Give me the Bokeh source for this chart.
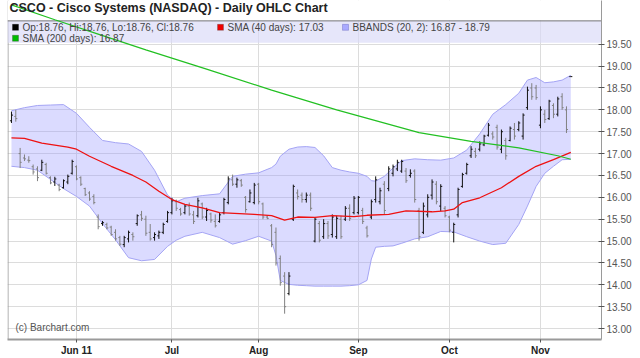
from bokeh.plotting import figure
from bokeh.models import (Range1d, FixedTicker, Span, BoxAnnotation, Label,
                          ColumnDataSource, NumeralTickFormatter)
from bokeh.embed import file_html
from bokeh.resources import INLINE

# ---------------- data ----------------
month_idx = [15, 37, 57, 80, 101, 122]
month_labels = ["Jun 11", "Jul", "Aug", "Sep", "Oct", "Nov"]
price_ticks = [13.0, 13.5, 14.0, 14.5, 15.0, 15.5, 16.0, 16.5, 17.0, 17.5, 18.0, 18.5, 19.0, 19.5]

opens = [17.75, 17.85, 17.00, 16.90, 16.85, 16.70, 16.65, 16.62, 16.75, 16.45,
         16.35, 16.28, 16.22, 16.35, 16.55, 16.70, 16.45, 16.20, 16.10, 16.02,
         15.55, 15.40, 15.38, 15.32, 15.20, 15.08, 14.92, 15.05, 15.15, 15.40,
         15.60, 15.50, 15.20, 15.08, 15.12, 15.20, 15.45, 15.65, 15.90, 15.72,
         15.65, 15.80, 15.60, 15.58, 15.85, 15.55, 15.62, 15.45, 15.45, 15.65,
         15.88, 16.40, 16.30, 16.38, 16.00, 15.90, 15.88, 16.30, 15.85, 15.55,
         15.35, 15.20, 14.60, 14.20, 13.80, 15.50, 16.10, 16.05, 15.95, 16.05,
         15.00, 15.40, 15.10, 15.40, 15.15, 15.10, 15.50, 15.50, 15.75, 15.65,
         15.65, 15.70, 15.30, 15.55, 15.95, 15.90, 16.30, 16.20, 16.55, 16.65,
         16.60, 16.60, 16.50, 16.60, 15.70, 15.20, 15.60, 16.05, 16.30, 15.80,
         15.75, 15.55, 15.20, 15.60, 16.25, 16.55, 16.95, 17.05, 17.10, 17.20,
         17.42, 17.45, 17.60, 17.10, 17.30, 17.30, 17.55, 17.55, 17.40, 18.05,
         18.50, 18.50, 17.65, 17.90, 17.80, 18.10, 17.90, 18.30, 18.00, 18.76]
highs = [17.96, 18.00, 17.13, 16.98, 16.94, 16.75, 16.71, 16.86, 16.79, 16.48,
         16.47, 16.31, 16.41, 16.52, 16.86, 16.73, 16.48, 16.22, 16.14, 16.07,
         15.61, 15.46, 15.42, 15.35, 15.27, 15.12, 15.12, 15.24, 15.20, 15.61,
         15.69, 15.58, 15.39, 15.20, 15.24, 15.42, 15.69, 15.99, 15.95, 15.76,
         15.84, 15.88, 15.69, 15.99, 15.88, 15.76, 15.65, 15.61, 15.65, 15.99,
         16.48, 16.52, 16.45, 16.42, 16.03, 16.18, 16.33, 16.33, 15.88, 15.58,
         15.39, 15.31, 14.67, 14.29, 14.29, 16.29, 16.18, 16.11, 16.11, 16.11,
         15.54, 15.46, 15.50, 15.46, 15.61, 15.58, 15.58, 15.80, 15.84, 16.03,
         16.03, 15.76, 15.35, 15.95, 16.48, 16.22, 16.37, 16.71, 16.75, 16.86,
         16.86, 16.67, 16.64, 16.64, 15.76, 15.88, 16.07, 16.41, 16.37, 16.30,
         15.80, 15.58, 15.42, 16.22, 16.56, 16.79, 17.17, 17.13, 17.28, 17.43,
         17.70, 17.51, 17.66, 17.55, 17.36, 17.62, 17.70, 17.74, 17.92, 18.53,
         18.61, 18.57, 18.08, 18.00, 18.23, 18.15, 18.30, 18.38, 18.08, 18.76]
lows = [17.70, 17.73, 16.67, 16.83, 16.79, 16.52, 16.37, 16.60, 16.52, 16.30,
        16.26, 16.14, 16.20, 16.30, 16.52, 16.39, 16.26, 16.03, 15.92, 15.84,
        15.27, 15.35, 15.27, 15.12, 15.01, 14.89, 14.86, 14.97, 15.01, 15.35,
        15.46, 15.12, 15.01, 15.01, 15.05, 15.16, 15.42, 15.61, 15.69, 15.58,
        15.61, 15.58, 15.39, 15.54, 15.50, 15.46, 15.42, 15.31, 15.42, 15.61,
        15.84, 16.26, 16.22, 16.24, 15.65, 15.88, 15.84, 15.84, 15.50, 15.50,
        14.86, 14.44, 13.98, 13.34, 13.76, 15.46, 15.95, 15.88, 15.88, 15.69,
        14.97, 14.97, 15.05, 15.05, 15.08, 15.05, 15.05, 15.46, 15.46, 15.61,
        15.61, 15.39, 15.08, 15.50, 15.88, 15.84, 15.61, 16.14, 16.48, 16.60,
        16.56, 16.33, 16.45, 15.88, 15.01, 15.16, 15.54, 15.95, 15.84, 15.69,
        15.54, 15.20, 14.97, 15.54, 16.22, 16.52, 16.90, 16.90, 17.05, 17.17,
        17.39, 17.32, 17.09, 17.01, 16.86, 17.28, 17.32, 17.51, 17.32, 18.00,
        18.23, 18.23, 17.58, 17.70, 17.77, 17.81, 17.85, 18.00, 17.47, 18.76]
closes = [17.88, 17.80, 16.80, 16.88, 16.84, 16.58, 16.45, 16.80, 16.55, 16.33,
          16.42, 16.18, 16.38, 16.48, 16.82, 16.42, 16.30, 16.06, 15.96, 15.88,
          15.33, 15.42, 15.30, 15.15, 15.05, 14.93, 15.08, 15.20, 15.10, 15.58,
          15.52, 15.18, 15.05, 15.15, 15.20, 15.38, 15.65, 15.92, 15.75, 15.62,
          15.80, 15.62, 15.45, 15.92, 15.55, 15.70, 15.48, 15.35, 15.60, 15.95,
          16.42, 16.30, 16.40, 16.28, 15.72, 16.10, 16.28, 15.90, 15.55, 15.52,
          14.92, 14.50, 14.05, 13.50, 14.20, 16.25, 16.02, 15.95, 16.05, 15.75,
          15.50, 15.02, 15.40, 15.12, 15.55, 15.52, 15.10, 15.75, 15.52, 15.98,
          16.00, 15.45, 15.12, 15.90, 16.40, 16.15, 15.70, 16.65, 16.70, 16.80,
          16.82, 16.38, 16.55, 15.95, 15.10, 15.80, 16.00, 16.35, 15.90, 16.25,
          15.58, 15.25, 15.38, 16.18, 16.52, 16.75, 17.10, 16.95, 17.22, 17.40,
          17.65, 17.38, 17.15, 17.50, 16.95, 17.58, 17.40, 17.70, 17.88, 18.45,
          18.30, 18.28, 18.00, 17.78, 18.20, 17.90, 18.25, 18.05, 17.55, 18.76]

bb_idx = [0, 3, 6, 9, 12, 15, 18, 21, 24, 27, 30, 33, 36, 38, 40, 44, 48, 51, 54, 57,
          60, 61, 62, 64, 66, 68, 70, 72, 74, 76, 78, 80, 82, 83, 84, 86, 88, 90, 93, 96,
          99, 102, 105, 108, 111, 114, 117, 119, 121, 123, 125, 127, 129]
bb_upper = [17.98, 18.05, 18.10, 18.11, 18.12, 17.92, 17.60, 17.30, 17.25, 17.22,
            17.05, 16.62, 16.05, 15.90, 15.98, 16.04, 16.08, 16.48, 16.53, 16.56,
            16.68, 16.76, 16.94, 17.10, 17.15, 17.16, 17.14, 16.95, 16.68, 16.62,
            16.58, 16.55, 16.48, 16.38, 16.37, 16.48, 16.67, 16.84, 16.88, 16.86,
            16.85, 16.90, 17.08, 17.45, 17.90, 18.12, 18.38, 18.68, 18.74, 18.62,
            18.64, 18.68, 18.79]
bb_lower = [16.71, 16.68, 16.62, 16.41, 16.20, 16.02, 15.80, 15.40, 15.03, 14.62,
            14.55, 14.58, 14.88, 15.02, 15.11, 15.20, 15.08, 14.93, 15.01, 15.11,
            15.00, 14.67, 14.10, 14.01, 13.99, 13.98, 13.97, 13.97, 13.97, 13.97,
            13.98, 14.00, 14.10, 14.59, 14.86, 14.88, 14.89, 14.95, 15.05, 15.10,
            15.22, 15.21, 15.10, 15.00, 14.92, 14.95, 15.38, 15.80, 16.25, 16.55,
            16.71, 16.86, 16.87]

sma40_idx = [0, 3, 7, 13, 15, 18, 23, 28, 31, 34, 37, 40, 44, 48, 56, 60, 63, 66, 70,
             74, 79, 82, 87, 91, 97, 100, 102, 104, 108, 113, 117, 121, 125, 129]
sma40_vals = [17.36, 17.35, 17.24, 17.15, 17.10, 16.94, 16.71, 16.50, 16.35, 16.14,
              15.95, 15.84, 15.76, 15.65, 15.61, 15.58, 15.48, 15.55, 15.54, 15.58,
              15.56, 15.59, 15.61, 15.69, 15.67, 15.69, 15.73, 15.88, 15.99, 16.22,
              16.48, 16.71, 16.86, 17.03]

sma200_idx = [0, 10, 20, 31, 45, 60, 75, 94, 106, 117, 126, 129]
sma200_vals = [20.40, 20.06, 19.73, 19.37, 18.93, 18.45, 18.00, 17.48, 17.28, 17.13,
               16.95, 16.87]

# ---------------- layout helpers (pixel -> data) ----------------
X0, XS = 10.96, 4.336          # px of index 0, px per trading day
def sx(px):
    return (px - X0) / XS
def sy(py):
    return 20.5 - py / 44.0

FONT = "Liberation Sans"

p = figure(width=640, height=358, output_backend="svg", toolbar_location=None,
           x_range=Range1d(sx(7), sx(601)), y_range=Range1d(sy(341), sy(0)),
           y_axis_location="right", min_border_left=7, min_border_right=39,
           min_border_top=0, min_border_bottom=17)
p.outline_line_color = None
p.background_fill_color = "white"
p.border_fill_color = "white"

# axes
xa = p.xaxis[0]
xa.ticker = FixedTicker(ticks=month_idx)
xa.major_label_overrides = {k: v for k, v in zip(month_idx, month_labels)}
xa.axis_line_color = "#9a9a9a"
xa.axis_line_width = 2
xa.major_tick_line_color = "#555555"
xa.major_tick_in = 0
xa.major_tick_out = 3
xa.minor_tick_line_color = None
xa.major_label_standoff = 2
xa.major_label_text_font = FONT
xa.major_label_text_font_size = "10px"
xa.major_label_text_font_style = "bold"
xa.major_label_text_color = "#222222"

ya = p.yaxis[0]
ya.ticker = FixedTicker(ticks=price_ticks)
ya.formatter = NumeralTickFormatter(format="0.00")
ya.axis_line_color = "#9a9a9a"
ya.major_tick_line_color = "#555555"
ya.major_tick_in = 3
ya.major_tick_out = 3
ya.minor_tick_line_color = None
ya.major_label_standoff = 2
ya.major_label_text_font = FONT
ya.major_label_text_font_size = "10px"
ya.major_label_text_color = "#555555"

p.xgrid.grid_line_color = "#dcdcdc"
p.ygrid.grid_line_color = "#dcdcdc"

# frame pieces
p.add_layout(Span(location=sx(7.5), dimension="height", line_color="#9a9a9a",
                  line_width=1, level="underlay"))
p.add_layout(BoxAnnotation(bottom=sy(20), fill_color="white", fill_alpha=1.0,
                           line_color=None, level="underlay"))
p.add_layout(BoxAnnotation(bottom=sy(42.5), top=sy(20), fill_color="#d8d8f8",
                           fill_alpha=0.65, line_color=None, level="underlay"))
p.add_layout(Span(location=sy(20.5), dimension="width", line_color="#777777",
                  line_width=1, level="underlay"))

# Bollinger band
p.varea(x=bb_idx, y1=bb_lower, y2=bb_upper, fill_color="#9b9bff", fill_alpha=0.36)
p.line(bb_idx, bb_upper, line_color="#a4a4f4", line_width=1)
p.line(bb_idx, bb_lower, line_color="#a4a4f4", line_width=1)

# OHLC bars
idx = list(range(len(closes)))
colors = ["#111111" if c >= o else "#808080" for o, c in zip(opens, closes)]
src = ColumnDataSource(dict(x=idx, o=opens, h=highs, l=lows, c=closes, col=colors,
                            xl=[i - 0.35 for i in idx], xr=[i + 0.35 for i in idx]))
p.segment(x0="x", y0="l", x1="x", y1="h", source=src, line_color="col", line_width=1)
p.segment(x0="xl", y0="o", x1="x", y1="o", source=src, line_color="col", line_width=1)
p.segment(x0="x", y0="c", x1="xr", y1="c", source=src, line_color="col", line_width=1)

# moving averages
p.line(sma40_idx, sma40_vals, line_color="#ee1111", line_width=1.3)
p.line(sma200_idx, sma200_vals, line_color="#22c022", line_width=1.2)

# texts
def label(px, py, text, size="10px", color="#444444", style="normal", **kw):
    p.add_layout(Label(x=sx(px), y=sy(py), text=text, text_font=FONT,
                       text_font_size=size, text_color=color, text_font_style=style,
                       text_baseline="middle", **kw))

label(9, 8, "CSCO - Cisco Systems (NASDAQ) - Daily OHLC Chart", size="12.5px",
      color="#222222", style="bold")

def square(px, py, fill, edge):
    p.add_layout(BoxAnnotation(left=sx(px), right=sx(px + 6), top=sy(py - 3),
                               bottom=sy(py + 3), fill_color=fill, fill_alpha=1.0,
                               line_color=edge, line_width=1))

square(12, 27, "#000000", "#000000")
label(22, 27, "Op:18.76, Hi:18.76, Lo:18.76, Cl:18.76")
square(217, 27, "#ee0000", "#444444")
label(227, 27, "SMA (40 days): 17.03")
square(342, 27, "#aaaaff", "#4444aa")
label(352, 27, "BBANDS (20, 2): 16.87 - 18.79")
square(12, 38, "#00bb00", "#333333")
label(22, 38, "SMA (200 days): 16.87")

label(15, 329, "(c) Barchart.com", color="#555555")
label(604, 72, "18.76", color="white", background_fill_color="black")

open("out.html", "w").write(file_html(p, INLINE))
